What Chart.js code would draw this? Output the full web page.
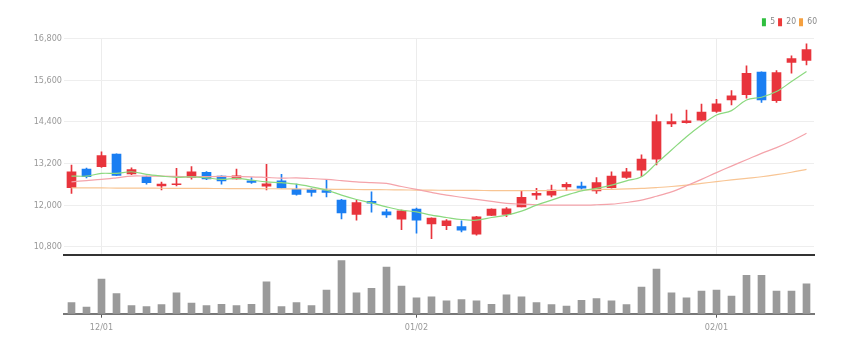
<!DOCTYPE html>
<html><head><meta charset="utf-8">
<script src="https://cdn.jsdelivr.net/npm/chart.js@4.4.0/dist/chart.umd.min.js"></script>
<style>
html,body{margin:0;padding:0;background:#fff;}
#wrap{position:relative;width:856px;height:352px;overflow:hidden;background:#fff;}
#p{position:absolute;left:0;top:0;width:856px;height:262px;}
#v{position:absolute;left:0;top:254px;width:856px;height:98px;}
</style></head><body>
<div id="wrap"><div id="p"><canvas id="pc"></canvas></div><div id="v"><canvas id="vc"></canvas></div></div>
<script>
const dates = ['11/29','11/30','12/01','12/02','12/05','12/06','12/07','12/08','12/09','12/12','12/13','12/14','12/15','12/16','12/19','12/20','12/21','12/22','12/23','12/26','12/27','12/28','12/29','01/02','01/03','01/04','01/05','01/06','01/09','01/10','01/11','01/12','01/13','01/16','01/17','01/18','01/19','01/20','01/25','01/26','01/27','01/30','01/31','02/01','02/02','02/03','02/06','02/07','02/08','02/09'];
const monthTicks = ['12/01','01/02','02/01'];
const priceTicks = [10800,12000,13200,14400,15600,16800];

const opens  = [12510,13040,13110,13470,12900,12820,12560,12590,12800,12950,12840,12760,12700,12550,12700,12460,12460,12420,12150,11740,12110,11810,11600,11890,11460,11410,11390,11170,11710,11740,11950,12290,12290,12530,12550,12410,12510,12800,13010,13330,14340,14380,14450,14700,15030,15180,15830,15010,16110,16170];
const highs  = [13160,13070,13540,13480,13080,12840,12670,13060,13110,12970,12850,13040,12800,13180,12890,12610,12490,12750,12170,12150,12390,11880,11860,11920,11640,11590,11550,11680,11900,11930,12410,12490,12580,12650,12670,12800,12960,13060,13450,14600,14630,14740,14910,15050,15300,16010,15840,15880,16300,16650];
const lows   = [12340,12790,13090,12850,12880,12610,12440,12560,12750,12740,12610,12750,12630,12440,12490,12290,12260,12240,11610,11570,11800,11650,11300,11200,11040,11300,11230,11140,11700,11670,11950,12170,12240,12420,12460,12340,12490,12770,12820,13160,14260,14360,14430,14670,14890,15080,14960,14960,15800,16040];
const closes = [12960,12820,13430,12860,13030,12650,12610,12620,12960,12760,12700,12850,12660,12620,12500,12310,12370,12370,11780,12080,12060,11720,11840,11570,11630,11550,11280,11670,11890,11900,12230,12340,12440,12600,12490,12650,12840,12960,13330,14410,14410,14430,14680,14920,15150,15800,15030,15820,16220,16480];
const volumes = [110000,66000,343000,200000,80000,70000,90000,206000,106000,80000,93000,80000,93000,316000,70000,110000,80000,233000,526000,206000,250000,460000,273000,156000,166000,126000,140000,126000,93000,186000,166000,110000,90000,76000,133000,150000,126000,90000,263000,440000,206000,156000,223000,233000,173000,380000,380000,223000,223000,296000];

const ma5  = [12840,12840,12918,12918,12964,12889,12840,12802,12820,12791,12744,12773,12724,12675,12650,12609,12531,12436,12292,12167,12069,11954,11859,11810,11715,11648,11590,11570,11648,11715,11830,12003,12147,12292,12416,12485,12580,12704,12820,13206,13590,13974,14311,14600,14724,15032,15110,15272,15560,15849];
const ma20 = [12675,12710,12744,12790,12840,12840,12840,12830,12820,12825,12830,12825,12820,12800,12780,12790,12770,12744,12710,12675,12650,12629,12540,12456,12370,12292,12230,12167,12110,12052,12032,12015,12003,12003,12003,12015,12032,12080,12147,12260,12387,12560,12744,12940,13128,13310,13495,13660,13850,14072];
const ma60 = [12502,12500,12498,12496,12494,12492,12490,12488,12486,12484,12482,12480,12478,12476,12474,12470,12466,12462,12458,12454,12450,12446,12442,12438,12434,12430,12428,12426,12424,12422,12420,12420,12425,12436,12440,12450,12460,12470,12485,12510,12540,12580,12629,12680,12730,12775,12820,12880,12950,13033];

const UP = '#e8343c', DOWN = '#1a7ef2';
const candleColors = opens.map((o,i)=> closes[i] >= o ? UP : DOWN);
const wickData = lows.map((l,i)=>[l, highs[i]]);
const bodyData = opens.map((o,i)=>[o, closes[i]]);
const FONT = "'Liberation Sans Narrow','Arial Narrow','DejaVu Sans Condensed',sans-serif";
Chart.defaults.font.family = FONT;
Chart.defaults.animation = false;
const isMonth = i => monthTicks.includes(dates[i]);

const legendTweak = {id:'legendTweak',
  beforeInit(chart){
    const fit = chart.legend.fit;
    chart.legend.fit = function(){ fit.bind(chart.legend)(); this.height += 2; };
  },
  afterLayout(chart){
    const lg = chart.legend;
    lg.left += 6; lg.right += 6;
  }
};

new Chart(document.getElementById('pc'), {
  type:'bar',
  data:{labels:dates, datasets:[
    {type:'line',label:'5',data:ma5,borderColor:'#8bd97f',backgroundColor:'#2fbf3f',borderWidth:1.2,pointRadius:0,tension:0.35,order:1},
    {type:'line',label:'20',data:ma20,borderColor:'#f4a3aa',backgroundColor:'#ee3a3a',borderWidth:1.2,pointRadius:0,tension:0.35,order:1},
    {type:'line',label:'60',data:ma60,borderColor:'#f8c594',backgroundColor:'#f5a040',borderWidth:1.2,pointRadius:0,tension:0.35,order:1},
    {label:'wick',data:wickData,backgroundColor:candleColors,barThickness:1,grouped:false,order:3},
    {label:'body',data:bodyData,backgroundColor:candleColors,barThickness:9,grouped:false,minBarLength:1,order:2}
  ]},
  options:{
    responsive:true, maintainAspectRatio:false, animation:false,
    layout:{padding:{left:0,right:42,top:15,bottom:0}},
    plugins:{
      tooltip:{enabled:false},
      legend:{position:'top',align:'end',
        labels:{boxWidth:4,boxHeight:8,padding:3,color:'#888',font:{size:8.5},
          filter:(it)=>['5','20','60'].includes(it.text),
          generateLabels:(chart)=>Chart.defaults.plugins.legend.labels.generateLabels(chart).map(l=>Object.assign(l,{strokeStyle:l.fillStyle,lineWidth:0}))
        }}
    },
    scales:{
      x:{offset:true,
        grid:{offset:false,drawTicks:false,color:(c)=>isMonth(c.index)?'#ececec':'rgba(0,0,0,0)'},
        border:{display:true,color:'#333',width:2},
        ticks:{display:false,autoSkip:false}},
      y:{min:10580,max:16800,
        afterFit:(s)=>{s.width=64;},
        afterBuildTicks:(s)=>{s.ticks=priceTicks.map(v=>({value:v}));},
        grid:{color:'#eeeeee',drawTicks:false},
        border:{display:false},
        ticks:{color:'#999',font:{size:9},padding:2,callback:(v)=>Number(v).toLocaleString('en-US')}}
    }
  },
  plugins:[legendTweak]
});

new Chart(document.getElementById('vc'), {
  type:'bar',
  data:{labels:dates, datasets:[{label:'volume',data:volumes,backgroundColor:'#9a9a9a',barThickness:7}]},
  options:{
    responsive:true, maintainAspectRatio:false, animation:false,
    layout:{padding:{left:64,right:42,top:0,bottom:13.5}},
    plugins:{legend:{display:false},tooltip:{enabled:false}},
    scales:{
      x:{offset:true,
        grid:{offset:false,drawOnChartArea:false,drawTicks:true,tickLength:4,color:(c)=>isMonth(c.index)?'#555':'rgba(0,0,0,0)'},
        border:{display:true,color:'#777',width:2},
        ticks:{autoSkip:false,maxRotation:0,minRotation:0,color:'#999',font:{size:9},padding:5,
          callback:(v,i)=>isMonth(i)?dates[i]:''}},
      y:{display:false,min:0,max:590000}
    }
  }
});
</script>
</body></html>
